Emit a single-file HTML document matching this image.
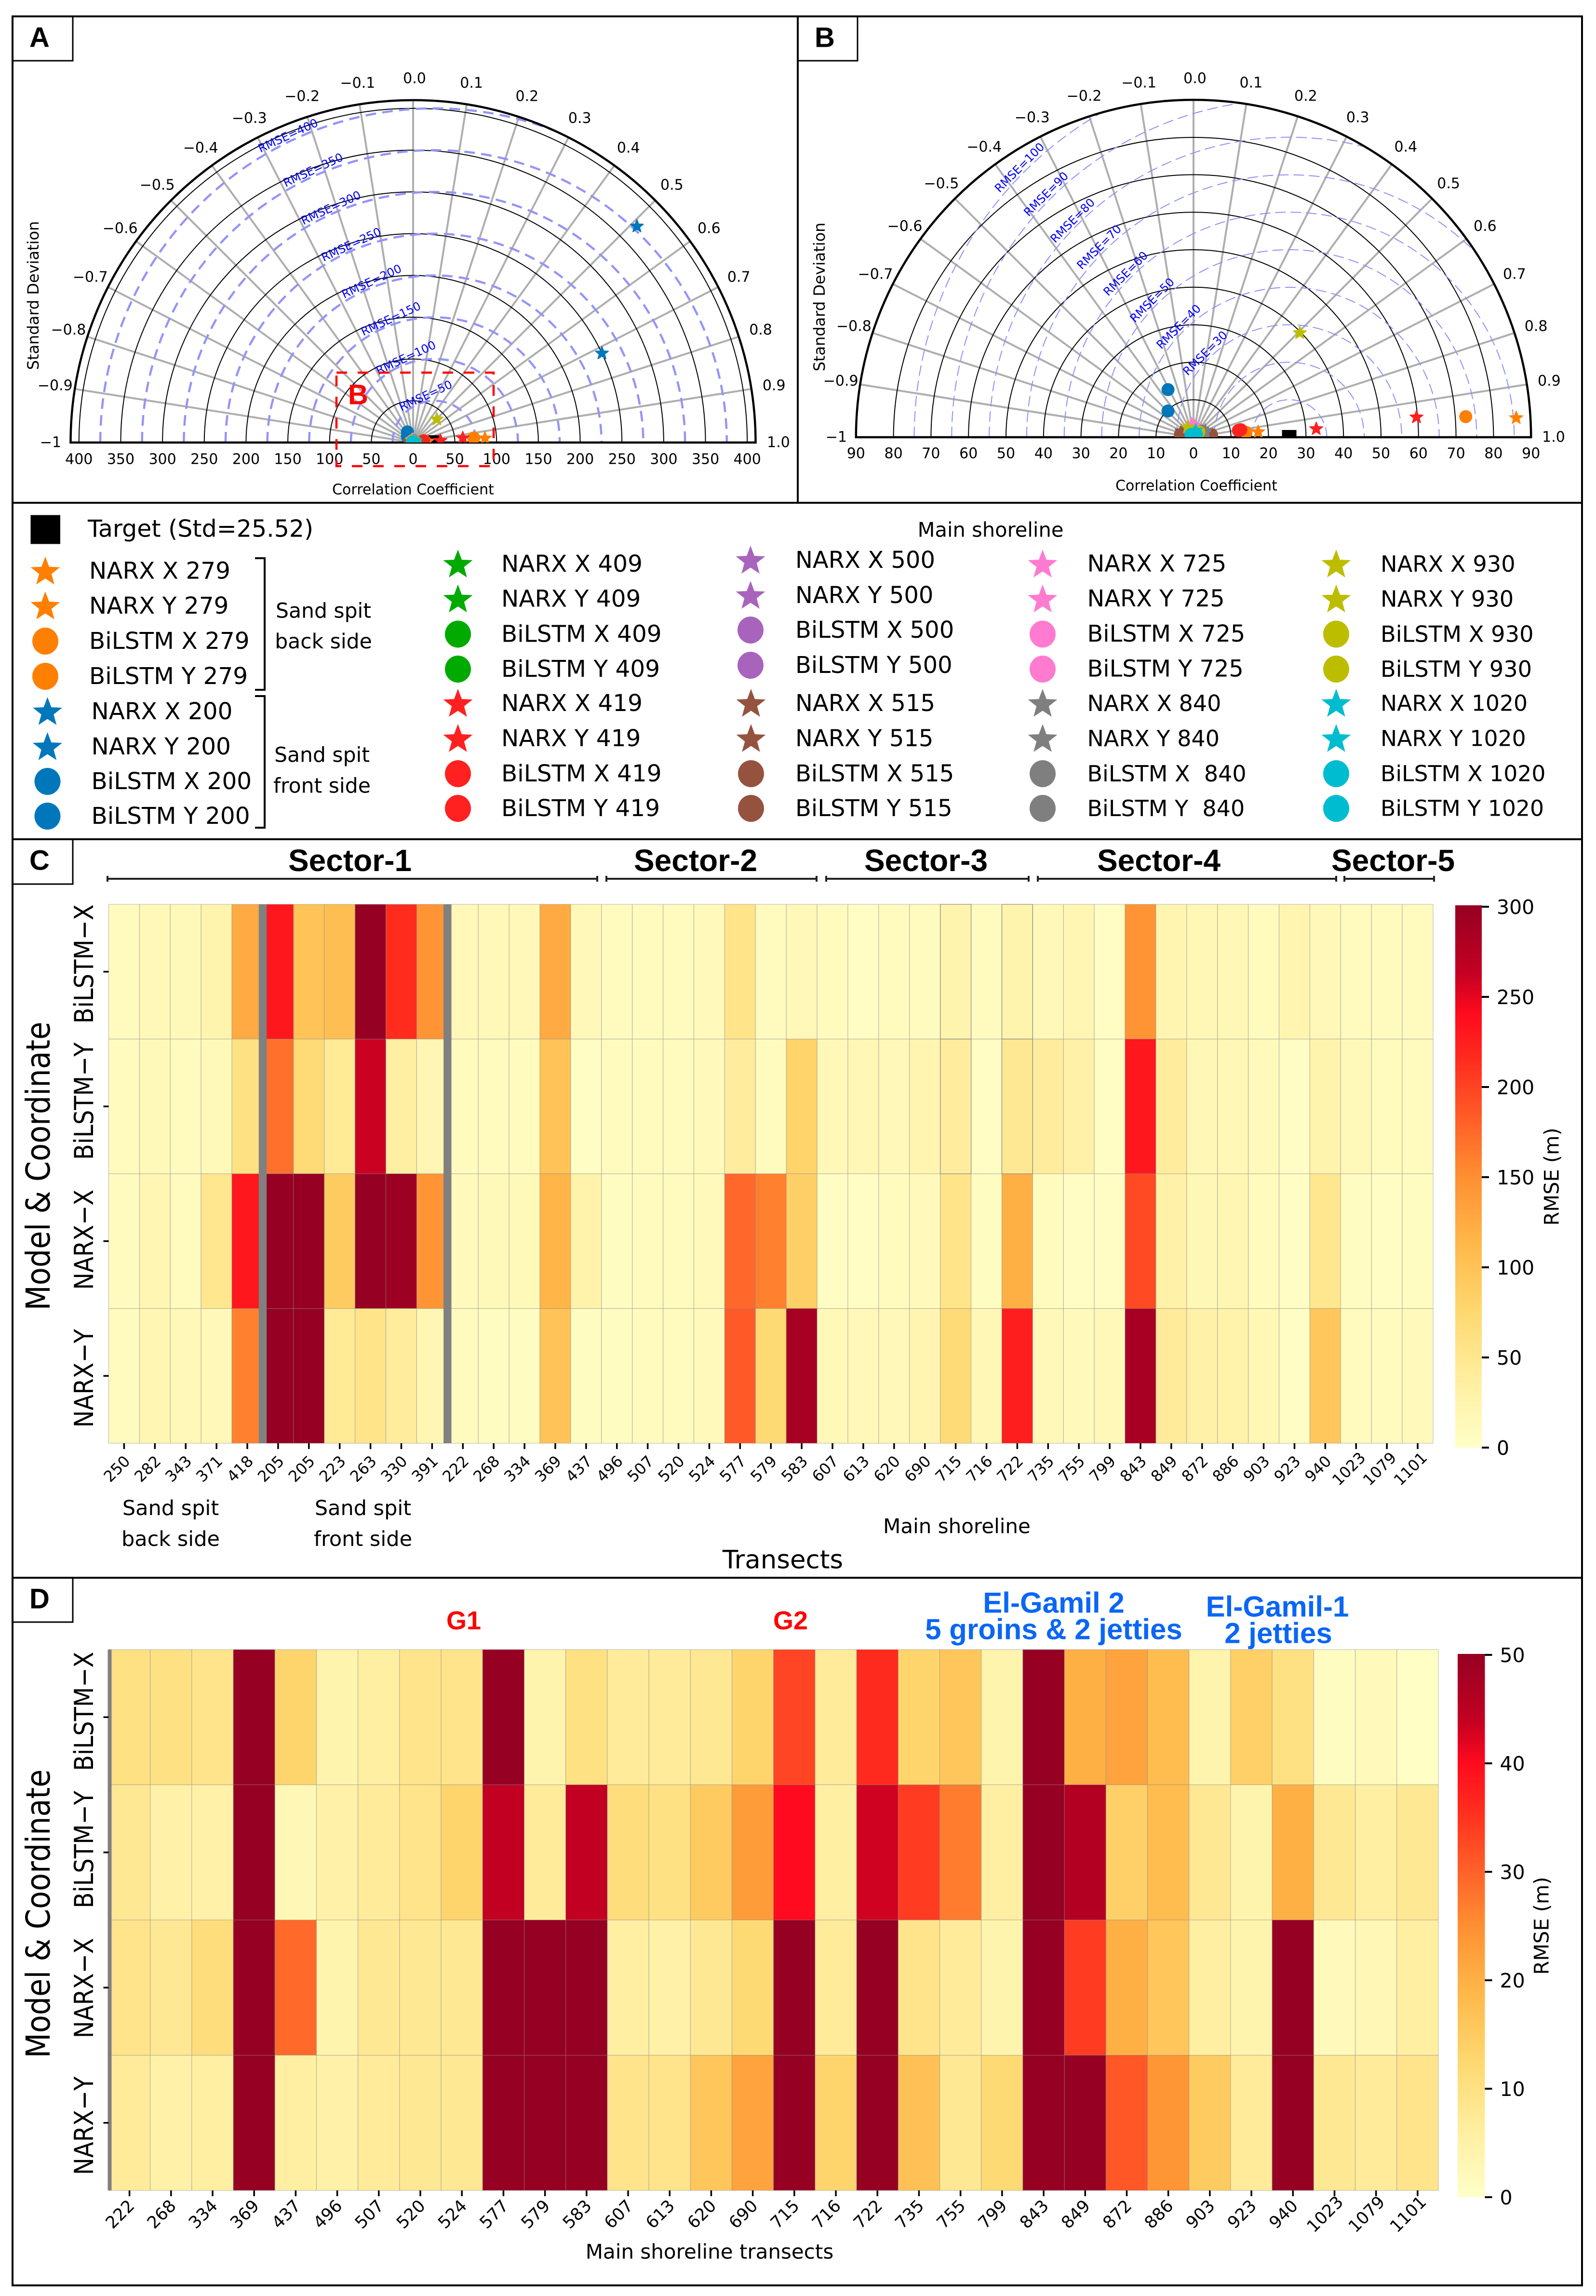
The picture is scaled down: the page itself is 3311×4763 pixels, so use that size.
<!DOCTYPE html>
<html lang="en">
<head>
<meta charset="utf-8">
<title>Taylor diagrams and RMSE heatmaps</title>
<style>
html,body{margin:0;padding:0;background:#fff;}
svg{display:block;}
text{font-family:"DejaVu Sans","Liberation Sans",sans-serif;fill:#000;}
.bold{font-family:"Liberation Sans",sans-serif;font-weight:700;}
</style>
</head>
<body>
<svg id="fig" xmlns="http://www.w3.org/2000/svg" width="3311" height="4763" viewBox="0 0 3311 4763">
  <rect x="0" y="0" width="3311" height="4763" fill="#fff"/>
  <g id="panelA"></g>
  <g id="panelB"></g>
  <g id="legend"></g>
  <g id="panelC"></g>
  <g id="panelD"></g>

  <g>
    <rect x="698" y="773" width="326" height="194" fill="none" stroke="#ff0000" stroke-width="4.5" stroke-dasharray="22 22"/>
    <text class="bold" x="743" y="819" font-size="58" text-anchor="middle" dominant-baseline="central" style="fill:#ff0000">B</text>
  </g>

  <g fill="none" stroke="#000">
    <rect x="26" y="34" width="3256" height="4707" stroke-width="4"/>
    <path d="M1655 34V1043M26 1043H3282M26 1741H3282M26 3273H3282" stroke-width="4"/>
    <path d="M26 126H151V34M1655 126H1779V34M26 1834H151V1741M26 3365H151V3273" stroke-width="3"/>
  </g>
  <text class="bold" x="82" y="78" font-size="58" text-anchor="middle" dominant-baseline="central">A</text>
  <text class="bold" x="1711" y="78" font-size="58" text-anchor="middle" dominant-baseline="central">B</text>
  <text class="bold" x="82" y="1785" font-size="58" text-anchor="middle" dominant-baseline="central">C</text>
  <text class="bold" x="82" y="3317" font-size="58" text-anchor="middle" dominant-baseline="central">D</text>

  <g>
    <text class="bold" x="726" y="1785" font-size="64" text-anchor="middle" dominant-baseline="central">Sector-1</text>
    <text class="bold" x="1443" y="1785" font-size="64" text-anchor="middle" dominant-baseline="central">Sector-2</text>
    <text class="bold" x="1921" y="1785" font-size="64" text-anchor="middle" dominant-baseline="central">Sector-3</text>
    <text class="bold" x="2404" y="1785" font-size="64" text-anchor="middle" dominant-baseline="central">Sector-4</text>
    <text class="bold" x="2890" y="1785" font-size="64" text-anchor="middle" dominant-baseline="central">Sector-5</text>
    <path d="M223 1817V1829M223 1823H1239M1239 1817V1829" fill="none" stroke="#222" stroke-width="4"/>
    <path d="M1258 1817V1829M1258 1823H1694M1694 1817V1829" fill="none" stroke="#222" stroke-width="4"/>
    <path d="M1714 1817V1829M1714 1823H2134M2134 1817V1829" fill="none" stroke="#222" stroke-width="4"/>
    <path d="M2153 1817V1829M2153 1823H2772M2772 1817V1829" fill="none" stroke="#222" stroke-width="4"/>
    <path d="M2789 1817V1829M2789 1823H2975M2975 1817V1829" fill="none" stroke="#222" stroke-width="4"/>
  </g>

  <g>
    <text x="354" y="3129" font-size="43" text-anchor="middle" dominant-baseline="central">Sand spit</text>
    <text x="354" y="3193" font-size="43" text-anchor="middle" dominant-baseline="central">back side</text>
    <text x="753" y="3129" font-size="43" text-anchor="middle" dominant-baseline="central">Sand spit</text>
    <text x="753" y="3193" font-size="43" text-anchor="middle" dominant-baseline="central">front side</text>
    <text x="1985" y="3166" font-size="42" text-anchor="middle" dominant-baseline="central">Main shoreline</text>
    <text x="1624" y="3236" font-size="53" text-anchor="middle" dominant-baseline="central">Transects</text>
  </g>

  <g>
    <text class="bold" x="962" y="3362" font-size="54" text-anchor="middle" dominant-baseline="central" style="fill:#ff0000">G1</text>
    <text class="bold" x="1640" y="3362" font-size="54" text-anchor="middle" dominant-baseline="central" style="fill:#ff0000">G2</text>
    <text class="bold" x="2186" y="3325" font-size="60" text-anchor="middle" dominant-baseline="central" style="fill:#0a66f5">El-Gamil 2</text>
    <text class="bold" x="2186" y="3380" font-size="60" text-anchor="middle" dominant-baseline="central" style="fill:#0a66f5">5 groins &amp; 2 jetties</text>
    <text class="bold" x="2650" y="3333" font-size="60" text-anchor="middle" dominant-baseline="central" style="fill:#0a66f5">El-Gamil-1</text>
    <text class="bold" x="2652" y="3388" font-size="60" text-anchor="middle" dominant-baseline="central" style="fill:#0a66f5">2 jetties</text>
    <text x="1472" y="4671" font-size="42" text-anchor="middle" dominant-baseline="central">Main shoreline transects</text>
  </g>
</svg>

<script>
// ---------- Taylor diagram data ----------
const targetStd = 25.52;
const taylorTransects = [279,279,279,279,200,200,200,200,409,409,409,409,419,419,419,419,500,500,500,500,515,515,515,515,725,725,725,725,840,840,840,840,930,930,930,930,1020,1020,1020,1020];
const taylorModels = ['NARX X','NARX Y','BiLSTM X','BiLSTM Y','NARX X','NARX Y','BiLSTM X','BiLSTM Y','NARX X','NARX Y','BiLSTM X','BiLSTM Y','NARX X','NARX Y','BiLSTM X','BiLSTM Y','NARX X','NARX Y','BiLSTM X','BiLSTM Y','NARX X','NARX Y','BiLSTM X','BiLSTM Y','NARX X','NARX Y','BiLSTM X','BiLSTM Y','NARX X','NARX Y','BiLSTM X','BiLSTM Y','NARX X','NARX Y','BiLSTM X','BiLSTM Y','NARX X','NARX Y','BiLSTM X','BiLSTM Y'];
const taylorStd = [86.2,17.3,72.8,14.06,372.5,250,14.4,9.76,2.5,2.2,2.0,1.8,59.7,32.8,12.76,12.1,2.0,2.4,2.5,2.2,3.6,4.0,3.57,4.85,3.5,3.0,2.4,2.2,3.6,3.2,2.8,2.6,39.7,3.1,2.0,1.6,1.9,1.0,1.0,1.1];
const taylorCorr = [0.962,0.948,0.952,0.941,0.511,0.719,-0.313,-0.491,0.6,0.4,0.3,0.2,0.943,0.957,0.9,0.905,0.3,0.45,-0.2,0.1,-0.7,0.85,-0.874,0.908,-0.09,0.1,-0.2,0.3,0.667,0.75,0.6,0.7,0.506,-0.344,0.5,-0.3,0.204,0.1,-0.5,0.5];
const corrTicks = [-1,-0.9,-0.8,-0.7,-0.6,-0.5,-0.4,-0.3,-0.2,-0.1,0,0.1,0.2,0.3,0.4,0.5,0.6,0.7,0.8,0.9,1];
const stdTicksA = [50,100,150,200,250,300,350,400];
const stdTicksB = [10,20,30,40,50,60,70,80,90];
const rmseContoursA = [50,100,150,200,250,300,350,400];
const rmseContoursB = [10,20,30,40,50,60,70,80,90,100];

// ---------- Heatmap data (panel C) ----------
const transectsC = [250,282,343,371,418,205,205,223,263,330,391,222,268,334,369,437,496,507,520,524,577,579,583,607,613,620,690,715,716,722,735,755,799,843,849,872,886,903,923,940,1023,1079,1101];
const modelLabels = ['BiLSTM\u2212X','BiLSTM\u2212Y','NARX\u2212X','NARX\u2212Y'];
const rmseCBilstmX = [8,15,14,25,125,230,100,105,300,215,145,15,15,15,125,15,8,8,10,12,55,8,15,8,5,8,10,25,8,25,15,20,5,145,22,18,18,8,22,15,10,8,8];
const rmseCBilstmY = [8,14,10,14,60,170,70,45,260,35,20,8,10,8,100,5,8,8,10,12,40,8,80,15,18,15,22,40,5,48,40,30,5,230,40,18,18,12,5,25,14,10,10];
const rmseCNarxX = [8,20,10,50,230,300,300,90,300,295,145,12,14,14,115,28,6,8,10,12,175,160,85,5,4,8,12,55,6,120,8,4,5,195,30,18,20,10,5,50,6,5,6];
const rmseCNarxY = [10,20,15,15,160,300,300,45,55,40,20,8,6,6,100,6,6,8,10,12,185,72,285,15,15,15,22,70,18,225,15,12,15,285,42,30,28,18,5,95,10,10,12];
const cbarTicksC = [0,50,100,150,200,250,300];
const sandSpitBreakColumns = [5,11];

// ---------- Heatmap data (panel D) ----------
const transectsD = [222,268,334,369,437,496,507,520,524,577,579,583,607,613,620,690,715,716,722,735,755,799,843,849,872,886,903,923,940,1023,1079,1101];
const rmseDBilstmX = [10,10,9,50,13,4,6,9,9,50,4,10,7,7,8,13,33,7,36,13,16,4,50,20,22,18,4,14,10,1,2,0.5];
const rmseDBilstmY = [8,5,5,50,3,5,7,9,13,44,7,44,11,10,15,23,40,6,43,34,27,6,50,46,14,18,8,4,20,8,6,8];
const rmseDNarxX = [9,8,11,50,29,4,8,8,8,50,50,50,6,5,8,12,50,7,50,9,7,4,50,34,20,16,6,4,50,2,3,6];
const rmseDNarxY = [7,5,6,50,6,5,7,8,8,50,50,50,9,9,16,22,50,13,50,17,8,12,50,50,31,24,15,7,50,8,7,9];
const cbarTicksD = [0,10,20,30,40,50];

// ---------- helpers ----------
const NS = 'http://www.w3.org/2000/svg';
const svgRoot = document.getElementById('fig');
function make(tag, attrs, parent){
  const n = document.createElementNS(NS, tag);
  for (const k in attrs) n.setAttribute(k, attrs[k]);
  parent.appendChild(n);
  return n;
}
function label(parent, str, x, y, size, rot, anchor, fill, crossScale){
  const t = make('text', {x:0, y:0, 'font-size':size, 'text-anchor':anchor||'middle', 'dominant-baseline':'central'}, parent);
  t.setAttribute('transform', 'translate(' + x + ' ' + y + ') rotate(' + (rot || 0) + ') scale(1 ' + (crossScale || 1) + ')');
  if (fill) t.style.fill = fill;
  t.textContent = str;
  return t;
}
function starPoints(cx, cy, R){
  const pts = [];
  for (let i = 0; i < 10; i++){
    const r = i % 2 ? R * 0.42 : R;
    const a = -Math.PI / 2 + i * Math.PI / 5;
    pts.push((cx + r * Math.cos(a)).toFixed(2) + ',' + (cy + r * Math.sin(a)).toFixed(2));
  }
  return pts.join(' ');
}
const transectColor = {279:'#ff7f00',200:'#0077bb',409:'#00aa00',419:'#ff2020',500:'#a864bc',515:'#95533f',725:'#ff7bd0',840:'#7f7f7f',930:'#bdbd00',1020:'#00bcd0'};

// ---------- Taylor diagram ----------
function drawTaylor(cfg){
  const g = document.getElementById(cfg.id);
  const xOf = function(std, corr){ return cfg.cx + std * cfg.k * Math.cos((1 - corr) * Math.PI / 2); };
  const yOf = function(std, corr){ return cfg.cy - std * cfg.k * Math.sin((1 - corr) * Math.PI / 2); };
  const R = cfg.rMax * cfg.k;

  const clip = make('clipPath', {id: cfg.id + 'Clip'}, g);
  make('path', {d:'M' + (cfg.cx - R) + ' ' + cfg.cy + 'A' + R + ' ' + R + ' 0 0 1 ' + (cfg.cx + R) + ' ' + cfg.cy + 'Z'}, clip);

  corrTicks.forEach(function(c){
    const px = xOf(cfg.rMax, c), py = yOf(cfg.rMax, c);
    if (Math.abs(c) < 1){
      const line = make('line', {x1:cfg.cx, y1:cfg.cy, x2:px, y2:py, stroke:'#aeaeae', 'stroke-width':4}, g);
      
      
    }
    const str = Math.abs(c) === 1 ? (c < 0 ? '\u22121' : '1.0') : c.toFixed(1).replace('-', '\u2212');
    const tl = label(g, str, cfg.cx + (cfg.lblR * Math.cos((1 - c) * Math.PI / 2)) + 3, cfg.cy - cfg.lblR * Math.sin((1 - c) * Math.PI / 2), 30);
    
    
  });

  cfg.stdTicks.forEach(function(s){
    const px = s * cfg.k;
    if (s < cfg.rMax){
      const arc = make('path', {d:'M' + (cfg.cx - px) + ' ' + cfg.cy + 'A' + px + ' ' + px + ' 0 0 1 ' + (cfg.cx + px) + ' ' + cfg.cy, fill:'none', stroke:'#000', 'stroke-width':2}, g);
      
      
    }
  });

  const tx = cfg.cx + targetStd * cfg.k;
  const contourGroup = make('g', {'clip-path':'url(#' + cfg.id + 'Clip)'}, g);
  
  
  cfg.contours.forEach(function(rm, i){
    const rp = rm * cfg.k;
    const c = make('path', {d:'M' + (tx - rp) + ' ' + cfg.cy + 'A' + rp + ' ' + rp + ' 0 0 1 ' + (tx + rp) + ' ' + cfg.cy, fill:'none', stroke:cfg.dashColor, 'stroke-width':cfg.dashWidth, 'stroke-dasharray':cfg.dash}, contourGroup);
    
    
    if (rm >= cfg.labelFrom){
      const ang = (cfg.labelAngles[i]) * Math.PI / 180;
      const rr = rp + cfg.labelOffset;
      const t = label(g, 'RMSE=' + rm, tx + rr * Math.cos(ang), cfg.cy - rr * Math.sin(ang), 24, cfg.labelRot, 'middle', '#0000ff');
      
      
    }
  });

  const outer = make('path', {d:'M' + (cfg.cx - R) + ' ' + cfg.cy + 'A' + R + ' ' + R + ' 0 0 1 ' + (cfg.cx + R) + ' ' + cfg.cy + 'Z', fill:'none', stroke:'#000', 'stroke-width':4.5}, g);
  
  

  const marks = make('g', {'clip-path':'url(#' + cfg.id + 'Clip)'}, g);
  
  
  const tgt = make('rect', {x:tx - 15, y:cfg.cy - 15, width:30, height:30, fill:'#000'}, marks);
  
  
  taylorStd.forEach(function(s, i){
    if (s > cfg.rMax) return;
    const px = xOf(s, taylorCorr[i]), py = yOf(s, taylorCorr[i]);
    const col = transectColor[taylorTransects[i]];
    const m = taylorModels[i].indexOf('NARX') === 0
      ? make('polygon', {points:starPoints(px, py, 14), fill:col, stroke:col, 'stroke-width':2, 'stroke-linejoin':'round'}, marks)
      : make('circle', {cx:px, cy:py, r:13.5, fill:col}, marks);
    
    
  });

  const ticks = cfg.stdTicks.slice().reverse().map(function(v){ return -v; }).concat([0], cfg.stdTicks);
  ticks.forEach(function(v){
    const t = label(g, String(Math.abs(v)), cfg.cx + v * cfg.k, cfg.tickY, 30);
    
    
  });

  const xt = label(g, 'Correlation Coefficient', cfg.xTitleX, cfg.xTitleY, 30);
  
  
  const yt = label(g, 'Standard Deviation', cfg.yTitleX, cfg.yTitleY, 32, -90);
  
  
}

drawTaylor({id:'panelA', cx:857, cy:918, k:1.733, rMax:410, lblR:755, stdTicks:stdTicksA, contours:rmseContoursA,
  dashColor:'#9494f8', dashWidth:4.5, dash:'22 13', labelFrom:50, labelOffset:12, labelRot:-25,
  labelAngles:[100.6,108.6,109.4,111.3,112.8,113.8,114,115.5], tickY:953, xTitleX:857, xTitleY:1016, yTitleX:69, yTitleY:613});
drawTaylor({id:'panelB', cx:2476, cy:907, k:7.78, rMax:90, lblR:744, stdTicks:stdTicksB, contours:rmseContoursB,
  dashColor:'#9090fa', dashWidth:2, dash:'22 10', labelFrom:30, labelOffset:13, labelRot:-45,
  labelAngles:[135,135,135,135,135,135,135,135,135,135], tickY:941, xTitleX:2482, xTitleY:1008, yTitleX:1700, yTitleY:616});

// ---------- colormap ----------
const cmapPositions = [0,0.125,0.25,0.375,0.5,0.625,0.72,0.8,0.875,1];
const cmapStops = ['#ffffc8','#ffeea0','#fed870','#ffb84a','#ff8f32','#ff5526','#ff2a1e','#ff0a1e','#c40022','#960022'];
function hexRgb(h){ return [parseInt(h.substr(1,2),16), parseInt(h.substr(3,2),16), parseInt(h.substr(5,2),16)]; }
function cmap(t){
  t = Math.max(0, Math.min(1, t));
  let i = 0;
  while (i < cmapPositions.length - 2 && t > cmapPositions[i + 1]) i++;
  const f = (t - cmapPositions[i]) / (cmapPositions[i + 1] - cmapPositions[i]);
  const a = hexRgb(cmapStops[i]), b = hexRgb(cmapStops[i + 1]);
  return 'rgb(' + a.map(function(v, k){ return Math.round(v + (b[k] - v) * f); }).join(',') + ')';
}

// ---------- heatmap ----------
function drawHeat(cfg){
  const g = document.getElementById(cfg.id);
  const nCols = cfg.cols.length, nRows = cfg.rows.length;
  const colW = (cfg.right - cfg.left) / nCols;
  const rowH = (cfg.bottom - cfg.top) / nRows;
  const xOf = function(c){ return cfg.left + c * colW; };
  const yOf = function(r){ return cfg.top + r * rowH; };

  cfg.rows.forEach(function(vals, r){
    vals.forEach(function(v, c){
      const cell = make('rect', {x:xOf(c), y:yOf(r), width:colW, height:rowH, fill:cmap(v / cfg.vMax), stroke:'#8a8a8a', 'stroke-opacity':0.6, 'stroke-width':1}, g);
      
      
    });
  });

  (cfg.outlined || []).forEach(function(o){
    const box = make('rect', {x:xOf(o[0]), y:yOf(o[1]), width:colW, height:rowH, fill:'none', stroke:'#888', 'stroke-width':1.2}, g);
    
    
  });

  (cfg.breaks || []).forEach(function(b){
    const bar = make('rect', {x:xOf(b) - cfg.breakW / 2 + cfg.breakShift, y:cfg.top, width:cfg.breakW, height:cfg.bottom - cfg.top, fill:'#808080'}, g);
    
    
  });

  cfg.cols.forEach(function(lbl, c){
    const x = xOf(c + 0.5);
    const tk = make('line', {x1:x, y1:cfg.bottom, x2:x, y2:cfg.bottom + 12, stroke:'#000', 'stroke-width':3.5}, g);
    
    
    const t = label(g, String(lbl), x + cfg.xLabelDx, cfg.bottom + cfg.xLabelDy, cfg.xLabelSize, -45);
    
    
  });

  modelLabels.forEach(function(lbl, r){
    const y = yOf(r + 0.5);
    const tk = make('line', {x1:cfg.left - 11, y1:y, x2:cfg.left, y2:y, stroke:'#000', 'stroke-width':3.5}, g);
    
    
    const t = label(g, lbl, 175, y + cfg.yLabelShift[r], 48, -90, 'middle', null, 1.14);
    
    
  });

  const yt = label(g, 'Model & Coordinate', 80, cfg.yTitleY, 60.5, -90, 'middle', null, 1.14);
  
  

  // colorbar
  const grad = make('linearGradient', {id:cfg.id + 'Grad', x1:0, y1:1, x2:0, y2:0}, g);
  cmapStops.forEach(function(col, i){
    make('stop', {offset:cmapPositions[i], 'stop-color':col}, grad);
  });
  const bar = make('rect', {x:cfg.cbX, y:cfg.cbTop, width:cfg.cbW, height:cfg.cbBottom - cfg.cbTop, fill:'url(#' + cfg.id + 'Grad)'}, g);
  
  
  const yCb = function(v){ return cfg.cbY0 + (cfg.cbYMax - cfg.cbY0) * v / cfg.vMax; };
  cfg.cbTicks.forEach(function(v){
    const y = yCb(v);
    const tk = make('line', {x1:cfg.cbX + cfg.cbW, y1:y, x2:cfg.cbX + cfg.cbW + 15, y2:y, stroke:'#000', 'stroke-width':4}, g);
    
    
    const t = label(g, String(v), cfg.cbX + cfg.cbW + 31, y + 1, 41, 0, 'start');
    
    
  });
  const ct = label(g, 'RMSE (m)', cfg.cbTitleX, cfg.cbTitleY, 41.5, -90);
  
  
}

drawHeat({id:'panelC', left:225.5, right:2973, top:1876, bottom:2994, cols:transectsC,
  rows:[rmseCBilstmX, rmseCBilstmY, rmseCNarxX, rmseCNarxY], vMax:300,
  breaks:sandSpitBreakColumns, breakW:16.4, breakShift:0, outlined:[[27,0],[27,1],[29,0],[29,1]],
  xLabelDx:-15, xLabelDy:53, xLabelSize:32, yLabelShift:[-16,-11,-3,5], yTitleY:2419,
  cbX:3019, cbW:55, cbTop:1878, cbBottom:3003, cbY0:3003, cbYMax:1881, cbTicks:cbarTicksC, cbTitleX:3219, cbTitleY:2441});

drawHeat({id:'panelD', left:225.5, right:2984, top:3422, bottom:4544, cols:transectsD,
  rows:[rmseDBilstmX, rmseDBilstmY, rmseDNarxX, rmseDNarxY], vMax:50,
  breaks:[0], breakW:8, breakShift:2,
  xLabelDx:-19, xLabelDy:50, xLabelSize:35, yLabelShift:[-12,-6,1,6], yTitleY:3970,
  cbX:3024, cbW:56.5, cbTop:3431, cbBottom:4558, cbY0:4558, cbYMax:3433, cbTicks:cbarTicksD, cbTitleX:3198, cbTitleY:3995});

// ---------- legend ----------
const legendG = document.getElementById('legend');
function legendEntry(str, kind, col, mx, tx, y, size){
  const m = kind === 'star'
    ? make('polygon', {points:starPoints(mx, y + 2, 32), fill:col}, legendG)
    : make('ellipse', {cx:mx, cy:y, rx:27, ry:28, fill:col}, legendG);
  
  
  const t = label(legendG, str, tx, y, size, 0, 'start');
  
  
}
function legendBlock(transect, suffixes, mx, tx, rows, size){
  const names = ['NARX X ','NARX Y ','BiLSTM X ','BiLSTM Y '];
  names.forEach(function(nm, i){
    legendEntry(nm + suffixes[i], i < 2 ? 'star' : 'circle', transectColor[transect], mx, tx, rows[i], size);
  });
}
const rowsUpper = [1170,1242.5,1315.5,1388];
const rowsLower = [1459,1532,1605,1677];
legendBlock(279, ['279','279','279','279'], 94, 185, [1184.6,1257,1330,1403], 48.5);
legendBlock(200, ['200','200','200','200'], 98.5, 189.5, [1476,1549,1621,1693], 48.5);
legendBlock(409, ['409','409','409','409'], 950, 1040, rowsUpper, 48.5);
legendBlock(419, ['419','419','419','419'], 950, 1040, rowsLower, 48.5);
legendBlock(500, ['500','500','500','500'], 1557, 1650, [1162,1235,1307,1380], 48);
legendBlock(515, ['515','515','515','515'], 1558, 1650, rowsLower, 48);
legendBlock(725, ['725','725','725','725'], 2163, 2255.5, rowsUpper, 47.8);
legendBlock(840, ['840','840','\u00a0840','\u00a0840'], 2163, 2255.5, rowsLower, 46);
legendBlock(930, ['930','930','930','930'], 2772, 2864, rowsUpper, 46.3);
legendBlock(1020, ['1020','1020','1020','1020'], 2772, 2864, rowsLower, 45.7);

const tgtSwatch = make('rect', {x:63.5, y:1068.5, width:61.5, height:60, fill:'#000'}, legendG);


const tgtLabel = label(legendG, 'Target (Std=25.52)', 182, 1097, 49, 0, 'start');


const mainLabel = label(legendG, 'Main shoreline', 2055, 1099, 41.6);



const brTop = make('path', {d:'M529 1158H549V1431H529', fill:'none', stroke:'#000', 'stroke-width':4}, legendG);


const brBottom = make('path', {d:'M529 1444H549V1717H529', fill:'none', stroke:'#000', 'stroke-width':4}, legendG);



const bs1 = label(legendG, 'Sand spit', 671, 1268, 42.5);


const bs2 = label(legendG, 'back side', 671, 1331.5, 42.5);


const fs1 = label(legendG, 'Sand spit', 668, 1567, 42.5);


const fs2 = label(legendG, 'front side', 668, 1631, 42.5);


</script>
</body>
</html>
